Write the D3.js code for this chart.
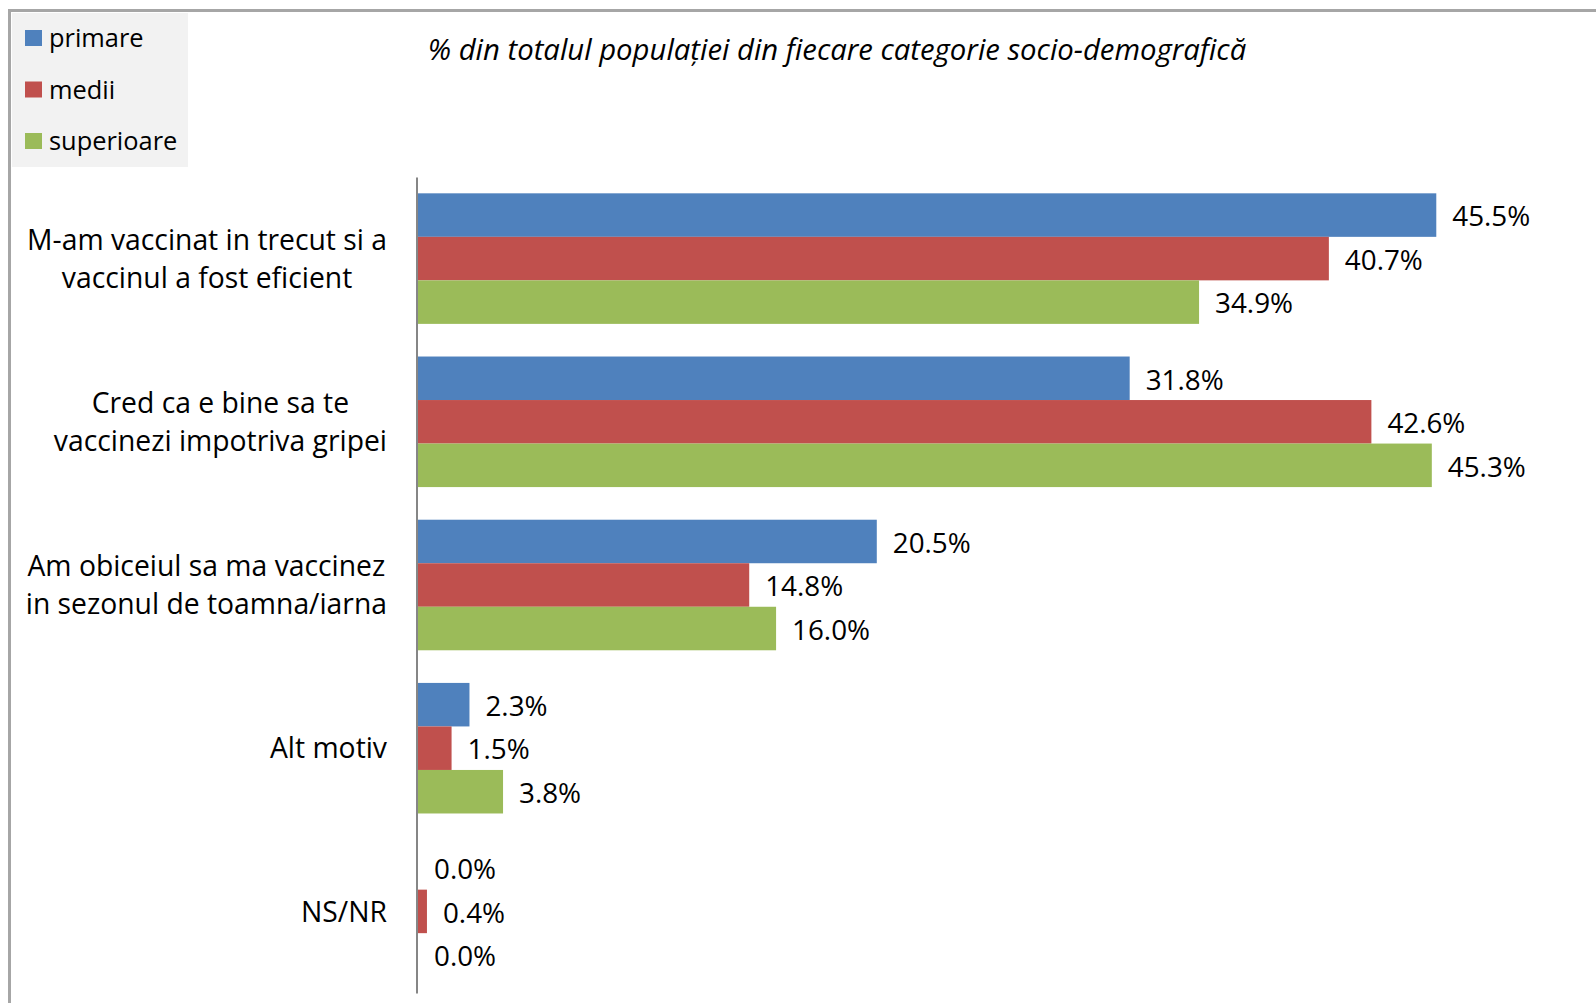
<!DOCTYPE html>
<html>
<head>
<meta charset="utf-8">
<script src="https://cdn.jsdelivr.net/npm/d3@7"></script>
<style>
  html, body { margin: 0; padding: 0; background: #fff; }
  svg { display: block; }
  text { font-family: "Open Sans", sans-serif; fill: #000; }
</style>
</head>
<body>
<svg id="chart" width="1596" height="1003"></svg>
<script>
// ---- data ----
const categories = [
  "M-am vaccinat in trecut si a vaccinul a fost eficient",
  "Cred ca e bine sa te vaccinezi impotriva gripei",
  "Am obiceiul sa ma vaccinez in sezonul de toamna/iarna",
  "Alt motiv",
  "NS/NR"
];
const categoryLines = [
  ["M-am vaccinat in trecut si a", "vaccinul a fost eficient"],
  ["Cred ca e bine sa te", "vaccinezi impotriva gripei"],
  ["Am obiceiul sa ma vaccinez", "in sezonul de toamna/iarna"],
  ["Alt motiv"],
  ["NS/NR"]
];
const seriesNames = ["primare", "medii", "superioare"];
const primare = [45.5, 31.8, 20.5, 2.3, 0.0];
const medii = [40.7, 42.6, 14.8, 1.5, 0.4];
const superioare = [34.9, 45.3, 16.0, 3.8, 0.0];
const seriesColors = ["#4f81bd", "#c0504d", "#9bbb59"];
const titleText = "% din totalul populației din fiecare categorie socio-demografică";

const seriesValues = [primare, medii, superioare];

const svg = d3.select("#chart");

// frame
svg.append("rect")
  .attr("x", 9.5).attr("y", 10.5)
  .attr("width", 3000).attr("height", 3000)
  .attr("fill", "#fff")
  .attr("stroke", "#a6a6a6").attr("stroke-width", 3);

// scales
const x = d3.scaleLinear().domain([0, 50]).range([418, 1537]);
const y = d3.scaleBand().domain(categories).range([177, 993])
  .paddingInner(0.2).paddingOuter(0.1);
const ys = d3.scaleBand().domain(seriesNames).range([0, y.bandwidth()]);

// bars
const groups = svg.append("g").selectAll("g")
  .data(categories)
  .join("g")
  .attr("transform", d => `translate(0,${y(d)})`);

const valueFs = 27.8;
groups.each(function (cat, ci) {
  const g = d3.select(this);
  seriesNames.forEach((s, si) => {
    const v = seriesValues[si][ci];
    if (v > 0) {
      g.append("rect")
        .attr("x", x(0))
        .attr("y", ys(s))
        .attr("width", x(v) - x(0))
        .attr("height", ys.bandwidth())
        .attr("fill", seriesColors[si]);
    }
    g.append("text")
      .attr("x", x(v) + 16)
      .attr("y", ys(s) + ys.bandwidth() / 2 + valueFs * 0.35 + 1.5)
      .attr("font-size", valueFs)
      .text(v.toFixed(1) + "%");
  });
});

// axis line (category axis, no ticks)
const yAxis = d3.axisLeft(y).tickSize(0).tickFormat("");
const axisG = svg.append("g").attr("transform", `translate(416.5,0)`).call(yAxis);
axisG.select(".domain").attr("stroke", "#868686").attr("stroke-width", 2);

// category labels: block right-aligned, lines centered within block
const catFs = 28.3;
const lineH = 38.3;
const labelRight = 387;
categories.forEach((cat, ci) => {
  const lines = categoryLines[ci];
  const t = svg.append("text").attr("font-size", catFs).attr("text-anchor", "middle");
  const cy = y(cat) + y.bandwidth() / 2;
  const spans = lines.map((ln, li) =>
    t.append("tspan").attr("y", cy + catFs * 0.36 + (li - (lines.length - 1) / 2) * lineH).text(ln));
  const maxW = d3.max(spans, s => s.node().getComputedTextLength());
  spans.forEach(s => s.attr("x", labelRight - maxW / 2));
});

// legend
svg.append("rect").attr("x", 12).attr("y", 13).attr("width", 176).attr("height", 154).attr("fill", "#f2f2f2");
const legendFs = 25.4;
const leg = svg.append("g").selectAll("g").data(seriesNames).join("g")
  .attr("transform", (d, i) => `translate(25,${47 + i * 51.5})`);
leg.append("rect").attr("x", 0).attr("y", -17).attr("width", 17).attr("height", 16)
  .attr("fill", (d, i) => seriesColors[i]);
leg.append("text").attr("x", 24).attr("y", 0).attr("font-size", legendFs).text(d => d);

// title
svg.append("text")
  .attr("x", 837).attr("y", 60)
  .attr("text-anchor", "middle")
  .attr("font-size", 29.3)
  .attr("font-style", "italic")
  .text(titleText);
</script>
</body>
</html>
